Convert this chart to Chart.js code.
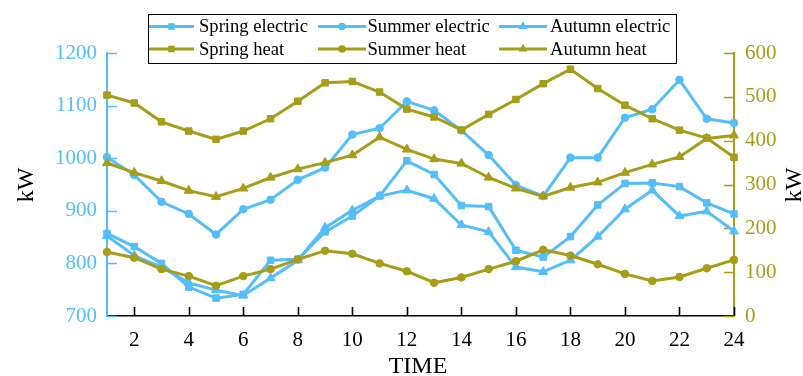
<!DOCTYPE html>
<html>
<head>
<meta charset="utf-8">
<script src="https://cdn.jsdelivr.net/npm/chart.js@4.4.1/dist/chart.umd.min.js"></script>
<style>
  html, body { margin: 0; padding: 0; background: #ffffff; }
  #wrap { width: 803px; height: 376px; }
</style>
</head>
<body>
<div id="wrap"><canvas id="c" width="803" height="376"></canvas></div>
<script>
// Hourly load profiles (electric on the left axis, heat on the right axis)
const hours = [1, 2, 3, 4, 5, 6, 7, 8, 9, 10, 11, 12, 13, 14, 15, 16, 17, 18, 19, 20, 21, 22, 23, 24];
const tickHours = [2, 4, 6, 8, 10, 12, 14, 16, 18, 20, 22, 24];

const springElectric = [857, 832, 800, 755, 734, 741, 806, 808, 860, 890, 928, 995, 969, 910, 908, 825, 812, 851, 911, 952, 953, 946, 915, 894];
const summerElectric = [1002, 968, 917, 894, 855, 903, 921, 959, 982, 1045, 1057, 1108, 1091, 1053, 1006, 949, 928, 1001, 1001, 1077, 1093, 1149, 1075, 1067];
const autumnElectric = [852, 815, 793, 763, 749, 739, 772, 806, 868, 901, 928, 939, 923, 873, 860, 793, 784, 806, 851, 903, 939, 890, 899, 861];

const springHeat = [504, 486, 443, 422, 403, 422, 450, 490, 532, 535, 511, 472, 454, 424, 460, 494, 530, 563, 519, 481, 450, 424, 406, 362];
const summerHeat = [146, 133, 107, 91, 69, 91, 107, 129, 149, 142, 120, 102, 76, 88, 107, 125, 151, 138, 118, 96, 80, 89, 109, 128];
const autumnHeat = [349, 327, 308, 286, 272, 291, 316, 335, 350, 367, 408, 380, 358, 348, 316, 291, 273, 293, 305, 327, 346, 363, 405, 412];

const seriesNames = ['Spring electric', 'Summer electric', 'Autumn electric', 'Spring heat', 'Summer heat', 'Autumn heat'];
const axisTitleX = 'TIME';
const axisTitleY = 'kW';

const BLUE = '#55BDF7';
const OLIVE = '#A69D18';
const SERIF = '"Liberation Serif", "Times New Roman", serif';

const markerRadius = { rect: 4.6, circle: 3.8, triangle: 5.2 };

function toPoints(values) {
  return values.map((v, i) => ({ x: hours[i], y: v }));
}

function makeSet(label, values, color, style, axis) {
  return {
    label: label,
    data: toPoints(values),
    yAxisID: axis,
    borderColor: color,
    backgroundColor: color,
    borderWidth: 3,
    pointStyle: style,
    pointRadius: markerRadius[style],
    pointHoverRadius: markerRadius[style],
    pointBorderWidth: 1,
    pointBorderColor: color,
    pointBackgroundColor: color,
    tension: 0,
    fill: false,
    clip: false
  };
}

const datasets = [
  makeSet(seriesNames[3], springHeat, OLIVE, 'rect', 'yR'),
  makeSet(seriesNames[4], summerHeat, OLIVE, 'circle', 'yR'),
  makeSet(seriesNames[5], autumnHeat, OLIVE, 'triangle', 'yR'),
  makeSet(seriesNames[0], springElectric, BLUE, 'rect', 'yL'),
  makeSet(seriesNames[1], summerElectric, BLUE, 'circle', 'yL'),
  makeSet(seriesNames[2], autumnElectric, BLUE, 'triangle', 'yL')
];

// Small marker painter for the boxed legend
function drawMarker(ctx, style, x, y, r, color) {
  ctx.save();
  ctx.fillStyle = color;
  ctx.beginPath();
  if (style === 'rect') {
    const s = Math.SQRT1_2 * r;
    ctx.rect(x - s, y - s, 2 * s, 2 * s);
  } else if (style === 'circle') {
    ctx.arc(x, y, r, 0, Math.PI * 2);
  } else {
    const h = r * 1.5;
    const half = r * Math.sqrt(3) / 2;
    ctx.moveTo(x, y - r);
    ctx.lineTo(x + half, y - r + h);
    ctx.lineTo(x - half, y - r + h);
    ctx.closePath();
  }
  ctx.fill();
  ctx.restore();
}

// Inward tick marks on all three axes
const inwardTicks = {
  id: 'inwardTicks',
  beforeDatasetsDraw(chart) {
    const ctx = chart.ctx;
    const ca = chart.chartArea;
    const sx = chart.scales.x, sl = chart.scales.yL, sr = chart.scales.yR;
    ctx.save();
    ctx.lineWidth = 1.6;
    ctx.strokeStyle = BLUE;
    ctx.beginPath();
    sl.ticks.forEach(t => {
      const y = Math.round(sl.getPixelForValue(t.value)) + 0.5;
      ctx.moveTo(ca.left, y); ctx.lineTo(ca.left + 10, y);
    });
    ctx.stroke();
    ctx.strokeStyle = OLIVE;
    ctx.beginPath();
    sr.ticks.forEach(t => {
      const y = Math.round(sr.getPixelForValue(t.value)) + 0.5;
      ctx.moveTo(ca.right, y); ctx.lineTo(ca.right - 10, y);
    });
    ctx.stroke();
    ctx.strokeStyle = '#000';
    ctx.beginPath();
    sx.ticks.forEach(t => {
      const x = Math.round(sx.getPixelForValue(t.value)) + 0.5;
      ctx.moveTo(x, ca.bottom); ctx.lineTo(x, ca.bottom - 9);
    });
    ctx.stroke();
    ctx.restore();
  }
};

// Axis titles and the boxed two-row legend
const overlay = {
  id: 'overlay',
  afterDraw(chart) {
    const ctx = chart.ctx;
    ctx.save();
    ctx.fillStyle = '#000';
    ctx.font = '24px ' + SERIF;
    ctx.textAlign = 'center';
    ctx.textBaseline = 'middle';
    ctx.fillText(axisTitleX, 418, 367);

    ctx.save();
    ctx.translate(27, 185);
    ctx.rotate(-Math.PI / 2);
    ctx.fillText(axisTitleY, 0, 0);
    ctx.restore();

    ctx.save();
    ctx.translate(795, 185);
    ctx.rotate(-Math.PI / 2);
    ctx.fillText(axisTitleY, 0, 0);
    ctx.restore();

    // legend box
    ctx.fillStyle = '#fff';
    ctx.fillRect(148.5, 14.5, 528, 49);
    ctx.strokeStyle = '#000';
    ctx.lineWidth = 1;
    ctx.strokeRect(148.5, 14.5, 528, 49);

    const cols = [
      { x0: 149, x1: 194, m: 171.5, t: 199 },
      { x0: 318, x1: 366, m: 342, t: 367.5 },
      { x0: 499, x1: 547, m: 523, t: 550 }
    ];
    const rows = [26.5, 49];
    const styles = ['rect', 'circle', 'triangle'];
    ctx.font = '18.6px ' + SERIF;
    ctx.textAlign = 'left';
    ctx.textBaseline = 'middle';
    for (let r = 0; r < 2; r++) {
      const color = r === 0 ? BLUE : OLIVE;
      for (let c = 0; c < 3; c++) {
        const col = cols[c], y = rows[r];
        ctx.strokeStyle = color;
        ctx.lineWidth = 3;
        ctx.beginPath();
        ctx.moveTo(col.x0, y); ctx.lineTo(col.x1, y);
        ctx.stroke();
        drawMarker(ctx, styles[c], col.m, y, markerRadius[styles[c]], color);
        ctx.fillStyle = '#000';
        ctx.fillText(seriesNames[r * 3 + c], col.t, y + 1);
      }
    }
    ctx.restore();
  }
};

const plainLabel = v => String(v);

new Chart(document.getElementById('c'), {
  type: 'line',
  data: { datasets: datasets },
  plugins: [inwardTicks, overlay],
  options: {
    responsive: false,
    animation: false,
    devicePixelRatio: 1,
    layout: { padding: { top: 53, left: 0, right: 0, bottom: 0 } },
    plugins: { legend: { display: false }, tooltip: { enabled: false } },
    scales: {
      x: {
        type: 'linear',
        min: 1,
        max: 24,
        afterBuildTicks: s => { s.ticks = tickHours.map(v => ({ value: v })); },
        afterFit: s => { s.height = 60; },
        grid: { display: false, drawTicks: false },
        border: { display: true, color: '#000', width: 1.5 },
        ticks: { color: '#000', font: { family: SERIF, size: 21 }, padding: 12, maxRotation: 0, autoSkip: false, callback: plainLabel }
      },
      yL: {
        type: 'linear',
        position: 'left',
        min: 700,
        max: 1200,
        afterFit: s => { s.width = 107; },
        grid: { display: false, drawTicks: false },
        border: { display: true, color: BLUE, width: 2 },
        ticks: { stepSize: 100, color: BLUE, font: { family: SERIF, size: 21 }, padding: 10, callback: plainLabel }
      },
      yR: {
        type: 'linear',
        position: 'right',
        min: 0,
        max: 600,
        afterFit: s => { s.width = 69; },
        grid: { display: false, drawTicks: false },
        border: { display: true, color: OLIVE, width: 2 },
        ticks: { stepSize: 100, color: OLIVE, font: { family: SERIF, size: 21 }, padding: 11, callback: plainLabel }
      }
    }
  }
});
</script>
</body>
</html>
